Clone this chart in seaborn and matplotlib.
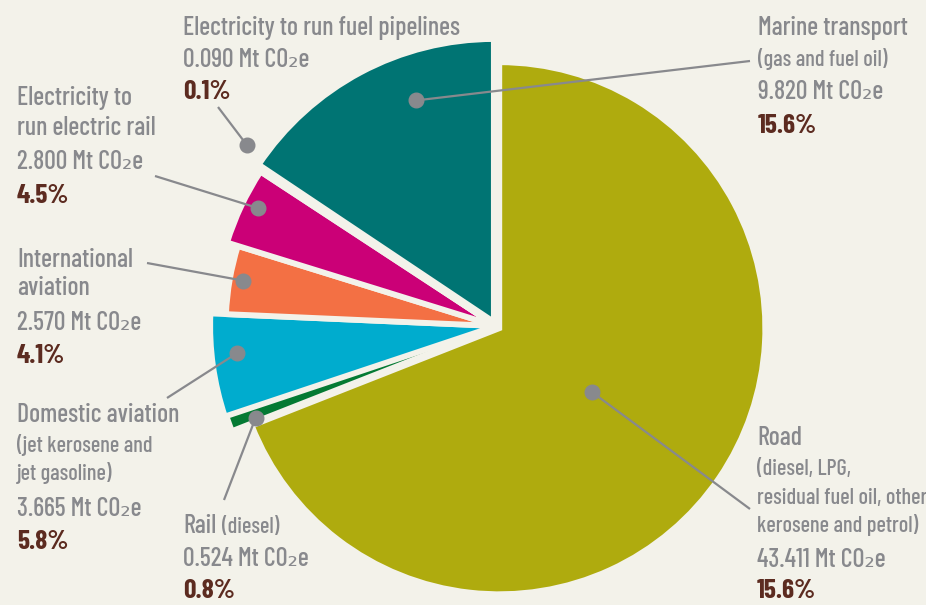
import numpy as np
import matplotlib
matplotlib.use("Agg")
import matplotlib.pyplot as plt
import seaborn as sns

# --- Data ---
categories = ['Road', 'Rail', 'Domestic aviation', 'International aviation',
              'Electricity to run electric rail', 'Electricity to run fuel pipelines',
              'Marine transport']
emissions = [43.411, 0.524, 3.665, 2.570, 2.800, 0.090, 9.820]
pct_labels = ['15.6%', '0.8%', '5.8%', '4.1%', '4.5%', '0.1%', '15.6%']  # as printed
title_lines = [['Road'], ['Rail'], ['Domestic aviation'], ['International', 'aviation'],
               ['Electricity to', 'run electric rail'], ['Electricity to run fuel pipelines'],
               ['Marine transport']]
note_lines = [['(diesel, LPG,', 'residual fuel oil, other', 'kerosene and petrol)'],
              [], ['(jet kerosene and', 'jet gasoline)'], [], [], [], ['(gas and fuel oil)']]
inline_notes = ['', '(diesel)', '', '', '', '', '']

# --- Style ---
bg = '#f3f2ea'
gray = '#88898d'
brown = '#5c2b20'
colors = ['#afab0e', '#047a33', '#00acce', '#f37044', '#cb0077', '#5f8f8f', '#007473']
FONT = ['Barlow Condensed', 'DejaVu Sans']

sns.set_theme(style='white', rc={'axes.facecolor': bg, 'figure.facecolor': bg})
plt.rcParams['font.family'] = FONT

# pixel frame: pie centre and unit radius
CX, CY, U = 496, 326, 283
W, H = 926, 605


def px(x, y):
    return (x - CX) / U, (CY - y) / U


radii = [0.94, 1.0, 1.01, 0.955, 0.995, 1.0, 1.0]
explode = [0.014, 0, 0, 0, 0, 0, 0.016]
edge_w = [4.2, 2.4, 4.2, 4.2, 4.2, 4.2, 4.2]

fig = plt.figure(figsize=(W / 100, H / 100), dpi=100)
ax = fig.add_axes([0, 0, 1, 1])
wedges, _ = ax.pie(emissions, colors=colors, startangle=90, counterclock=False,
                   explode=explode, radius=1.0,
                   wedgeprops=dict(edgecolor=bg, linewidth=4.2))
for i, w in enumerate(wedges):
    w.set_radius(radii[i])
    w.set_linewidth(edge_w[i])
    if i > 0:
        w.set_joinstyle('round')

x0, y0 = px(0, H)
x1, y1 = px(W, 0)
ax.set_xlim(x0, x1)
ax.set_ylim(y0, y1)
ax.set_aspect('auto')
ax.axis('off')

# --- fit font sizes to the widths of the printed labels ---
renderer = fig.canvas.get_renderer()


def fit_size(sample, target_px, weight='normal'):
    t = ax.text(0, 0, sample, fontsize=20, fontweight=weight)
    wpx = t.get_window_extent(renderer).width
    t.remove()
    return 20 * target_px / wpx


big = fit_size('Electricity to run fuel pipelines', 270)
small = fit_size('(gas and fuel oil)', 125)
pct = fit_size('15.6%', 59, 'bold')
sizes = {'big': big, 'small': small, 'pct': pct}

# --- Label layout (pixels) ---
text_x = [757, 183, 17, 17, 17, 183, 758]
baselines = [[445, 475, 504, 532, 567, 598],
             [533, 566, 598],
             [422, 452, 480, 516, 549],
             [267, 295, 330, 363],
             [105, 135, 169, 203],
             [35, 67, 99],
             [35, 66, 99, 133]]
line_ends = [(750, 509), (224, 500), (167, 398), (147, 263), (155, 176), (218, 107), (750, 61)]
dot_offset = [-0.3, 1.0, -2.0, -0.3, -1.1, -2.5, -8.7]   # degrees from wedge mid-angle
dot_radius = [0.40, 0.91, 0.92, 0.91, 0.94, 1.09, 0.83]

for i, w in enumerate(wedges):
    mid = np.deg2rad((w.theta1 + w.theta2) / 2 + dot_offset[i])
    cx0, cy0 = w.center
    dx = cx0 + dot_radius[i] * np.cos(mid)
    dy = cy0 + dot_radius[i] * np.sin(mid)
    ex, ey = px(*line_ends[i])
    ax.plot([dx, ex], [dy, ey], color=gray, lw=1.6, zorder=5, solid_capstyle='butt')
    ax.plot(dx, dy, 'o', color=gray, markersize=10.5, zorder=6)

    lines = ([(t, 'big') for t in title_lines[i]] + [(t, 'small') for t in note_lines[i]]
             + [(f'{emissions[i]:.3f} Mt CO\u2082e', 'big'), (pct_labels[i], 'pct')])
    for (txt, kind), by in zip(lines, baselines[i]):
        x, y = px(text_x[i], by)
        t = ax.text(x, y, txt, ha='left', va='baseline', fontsize=sizes[kind],
                    color=brown if kind == 'pct' else gray,
                    fontweight='bold' if kind == 'pct' else 'medium', zorder=7)
        if kind == 'big' and txt == title_lines[i][0] and inline_notes[i]:
            right = t.get_window_extent(renderer).x1
            xn = ax.transData.inverted().transform((right + 6, 0))[0]
            ax.text(xn, y, inline_notes[i], ha='left', va='baseline',
                    fontsize=small, color=gray, fontweight='medium', zorder=7)

fig.savefig('out.png', dpi=100, facecolor=bg)
